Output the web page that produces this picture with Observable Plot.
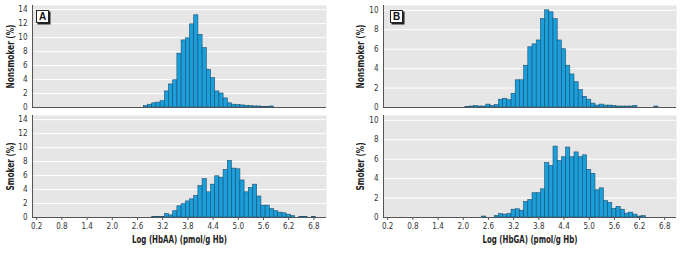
<!DOCTYPE html>
<html><head><meta charset="utf-8">
<script src="https://cdn.jsdelivr.net/npm/d3@7"></script>
<script src="https://cdn.jsdelivr.net/npm/@observablehq/plot@0.6"></script>
<style>
body{margin:0;background:#fff;}
#wrap{position:relative;width:683px;height:254px;overflow:hidden;}
.p{position:absolute;}
.tag{position:absolute;width:11px;height:11px;border:1px solid #222;background:#fff;box-shadow:1.5px 1.5px 0 #222;font:bold 10px "Liberation Sans","DejaVu Sans",sans-serif;text-align:center;line-height:11px;color:#111;}
</style></head><body><div id="wrap"></div>
<script>
// Tick labels
const xTicks = [0.2,0.8,1.4,2.0,2.6,3.2,3.8,4.4,5.0,5.6,6.2,6.8];
const yTicksA = [0,2,4,6,8,10,12,14];
const yTicksB = [0,2,4,6,8,10];

// Panel A, nonsmoker: bin centers and % values
const binsANon = [2.8,2.9,3.0,3.1,3.2,3.3,3.4,3.5,3.6,3.7,3.8,3.9,4.0,4.1,4.2,4.3,4.4,4.5,4.6,4.7,4.8,4.9,5.0,5.1,5.2,5.3,5.4,5.5,5.6,5.7,5.8];
const valsANon = [0.2,0.4,0.6,0.7,0.9,2.3,3.3,3.9,7.7,9.6,9.9,11.9,13.2,10.4,8.5,5.4,4.2,2.3,2.0,1.3,0.6,0.4,0.35,0.3,0.25,0.2,0.15,0.15,0.1,0.1,0.15];

// Panel A, smoker
const binsASmk = [3.0,3.1,3.2,3.3,3.4,3.5,3.6,3.7,3.8,3.9,4.0,4.1,4.2,4.3,4.4,4.5,4.6,4.7,4.8,4.9,5.0,5.1,5.2,5.3,5.4,5.5,5.6,5.7,5.8,5.9,6.0,6.1,6.2,6.3,6.5,6.6,6.8];
const valsASmk = [0.1,0.1,0.1,0.5,0.3,0.9,1.6,1.9,2.3,2.6,3.1,4.5,5.5,3.6,4.7,5.9,5.7,6.8,8.1,7.0,6.9,5.3,3.6,4.2,4.7,3.0,1.7,1.7,1.2,0.9,0.7,0.6,0.4,0.2,0.1,0.1,0.1];

// Panel B, nonsmoker
const binsBNon = [2.1,2.2,2.3,2.4,2.5,2.6,2.7,2.8,2.9,3.0,3.1,3.2,3.3,3.4,3.5,3.6,3.7,3.8,3.9,4.0,4.1,4.2,4.3,4.4,4.5,4.6,4.7,4.8,4.9,5.0,5.1,5.2,5.3,5.4,5.5,5.6,5.7,5.8,5.9,6.0,6.1,6.6];
const valsBNon = [0.05,0.1,0.15,0.1,0.1,0.3,0.15,0.25,0.8,0.9,0.75,1.4,2.8,2.8,4.3,6.2,6.5,6.9,9.1,10.0,9.8,9.1,6.9,6.0,4.3,3.4,2.6,1.8,1.1,0.8,0.4,0.2,0.3,0.2,0.2,0.15,0.1,0.1,0.1,0.1,0.15,0.1];

// Panel B, smoker
const binsBSmk = [2.5,2.8,2.9,3.0,3.1,3.2,3.3,3.4,3.5,3.6,3.7,3.8,3.9,4.0,4.1,4.2,4.3,4.4,4.5,4.6,4.7,4.8,4.9,5.0,5.1,5.2,5.3,5.4,5.5,5.6,5.7,5.8,5.9,6.0,6.1,6.2,6.3];
const valsBSmk = [0.1,0.15,0.35,0.3,0.35,0.8,0.85,0.7,1.6,1.8,2.5,2.5,2.9,5.6,5.3,7.3,5.8,6.2,7.2,6.2,6.7,6.2,6.4,4.9,4.5,2.8,3.0,1.7,1.5,0.9,1.1,0.8,0.4,0.5,0.3,0.1,0.15];

const FONT = '"Liberation Sans Narrow","DejaVu Sans Condensed","Liberation Sans",sans-serif';
const wrap = document.getElementById("wrap");

function squeeze(chart, text, len) {
  d3.select(chart).selectAll("text")
    .filter(function () { return this.textContent === text; })
    .attr("textLength", len).attr("lengthAdjust", "spacingAndGlyphs");
}

function panel(o) {
  const data = o.bins.map((b, i) => ({x1: b - 0.05, x2: b + 0.05, y: o.vals[i]}));
  const marks = [
    Plot.frame({fill: "#e6e6e6", stroke: null}),
    Plot.gridY(o.yTicks, {stroke: "#fff", strokeOpacity: 1, strokeWidth: 1}),
    Plot.rectY(data, {x1: "x1", x2: "x2", y: "y", fill: "#1a9fdb", stroke: "#1d4f70", strokeWidth: 0.6}),
    Plot.ruleY([0], {stroke: "#555", strokeWidth: 1.2}),
    Plot.ruleX([o.xDomain[0]], {stroke: "#555", strokeWidth: 1}),
    Plot.axisY(o.yTicks, {tickSize: 0, tickPadding: 5, label: null, fontSize: 8, fill: "#333"}),
    Plot.text([o.yLabel], {frameAnchor: "left", rotate: -90, textAnchor: "middle", dx: o.labelDx, fontWeight: "bold", fontSize: 10.5, fill: "#222"})
  ];
  if (o.xLabel) {
    marks.push(Plot.axisX(xTicks, {tickSize: 3, tickPadding: 3, tickFormat: d3.format(".1f"), label: null, fontSize: 8, stroke: "#555", fill: "#333"}));
    marks.push(Plot.text([o.xLabel], {frameAnchor: "bottom", textAnchor: "middle", dy: 25, fontWeight: "bold", fontSize: 11, fill: "#222"}));
  }
  const chart = Plot.plot({
    width: o.width, height: o.height,
    marginLeft: o.mL, marginRight: o.mR, marginTop: o.mT, marginBottom: o.mB,
    x: {domain: o.xDomain, axis: o.xLabel ? undefined : null},
    y: {domain: [0, o.yMax]},
    style: {fontFamily: FONT, fontSize: "8px", color: "#333", background: "transparent", overflow: "visible"},
    marks
  });
  squeeze(chart, o.yLabel, o.yLabelLen);
  if (o.xLabel) squeeze(chart, o.xLabel, 95);
  chart.classList.add("p");
  chart.style.left = o.left + "px";
  chart.style.top = o.top + "px";
  wrap.appendChild(chart);
}

const common = {width: 340};
panel({...common, bins: binsANon, vals: valsANon, yTicks: yTicksA, yMax: 14.6, yLabel: "Nonsmoker (%)", yLabelLen: 64,
  left: 0, top: 0, height: 112, mL: 32, mR: 14, mT: 5, mB: 5, xDomain: [0.1, 7.1], labelDx: -22});
panel({...common, bins: binsASmk, vals: valsASmk, yTicks: yTicksA, yMax: 14.6, yLabel: "Smoker (%)", yLabelLen: 48, xLabel: "Log (HbAA) (pmol/g Hb)",
  left: 0, top: 110, height: 144, mL: 32, mR: 14, mT: 5, mB: 37, xDomain: [0.1, 7.1], labelDx: -22});
panel({...common, bins: binsBNon, vals: valsBNon, yTicks: yTicksB, yMax: 10.5, yLabel: "Nonsmoker (%)", yLabelLen: 64,
  left: 343, top: 0, height: 112, mL: 40, mR: 7, mT: 5, mB: 5, xDomain: [0.1, 7.08], labelDx: -23});
panel({...common, bins: binsBSmk, vals: valsBSmk, yTicks: yTicksB, yMax: 10.5, yLabel: "Smoker (%)", yLabelLen: 48, xLabel: "Log (HbGA) (pmol/g Hb)",
  left: 343, top: 110, height: 144, mL: 40, mR: 7, mT: 5, mB: 37, xDomain: [0.1, 7.08], labelDx: -23});

function tag(letter, left, top) {
  const d = document.createElement("div");
  d.className = "tag";
  d.textContent = letter;
  d.style.left = left + "px";
  d.style.top = top + "px";
  wrap.appendChild(d);
}
tag("A", 36, 10);
tag("B", 390, 10);
</script>
</body></html>
